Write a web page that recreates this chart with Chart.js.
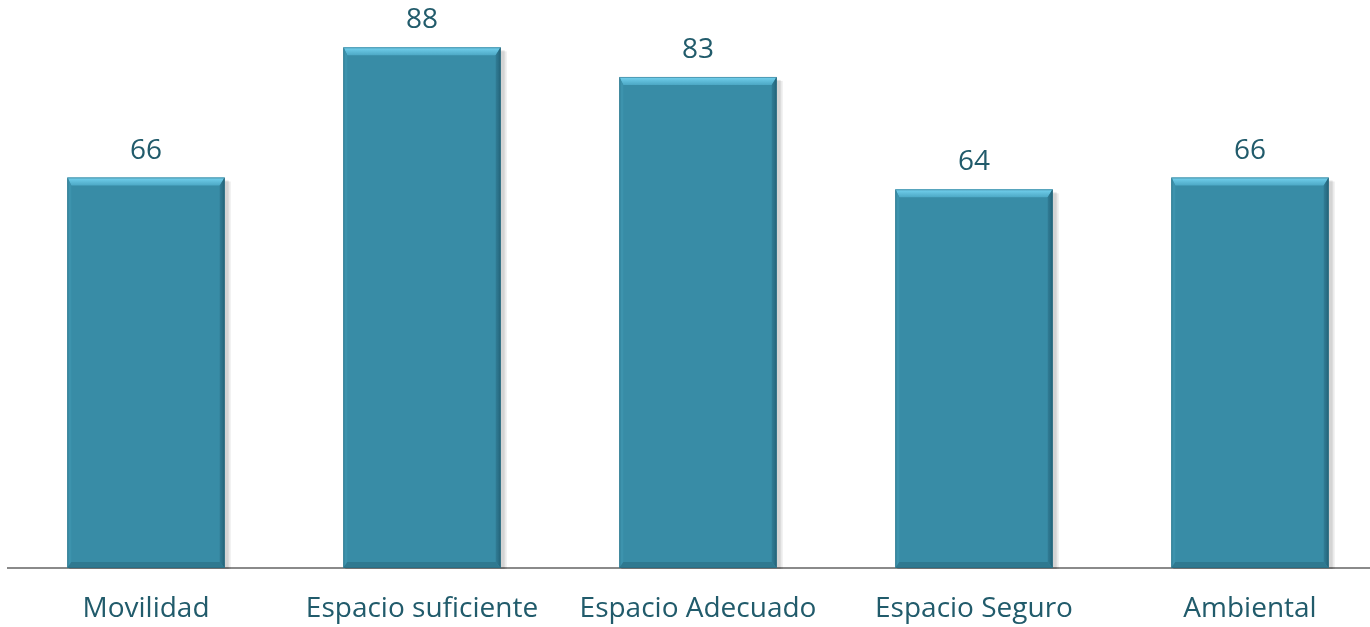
<!DOCTYPE html>
<html><head><meta charset="utf-8">
<script src="https://cdn.jsdelivr.net/npm/chart.js@4.4.0/dist/chart.umd.min.js"></script>
<style>
html,body{margin:0;padding:0;overflow:hidden;background:#fff;}
#wrap{position:absolute;left:0;top:0;width:1390px;height:627px;}
</style></head>
<body>
<div id="wrap"><canvas id="c"></canvas></div>
<script>
const categories = ["Movilidad","Espacio suficiente","Espacio Adecuado","Espacio Seguro","Ambiental"];
const values = [66, 88, 83, 64, 66];
const valueLabels = ["66","88","83","64","66"];

const textColor = '#215B6B';
const fontFamily = '"Open Sans", "Noto Sans", sans-serif';

const bevelPlugin = {
  id: 'bevel',
  afterDatasetsDraw(chart) {
    const ctx = chart.ctx;
    const meta = chart.getDatasetMeta(0);
    meta.data.forEach((bar, i) => {
      const p = bar.getProps(['x','y','base','width'], true);
      const l = p.x - p.width/2, r = p.x + p.width/2, t = p.y, b = p.base;
      const st = 8, sl = 4, sr = 5, sb = 6;
      ctx.save();
      // top bevel
      let g = ctx.createLinearGradient(0, t, 0, t+st);
      g.addColorStop(0, '#74D2EF'); g.addColorStop(1, '#4CA8C5');
      ctx.fillStyle = g;
      ctx.beginPath(); ctx.moveTo(l,t); ctx.lineTo(r,t); ctx.lineTo(r-sr,t+st); ctx.lineTo(l+sl,t+st); ctx.closePath(); ctx.fill();
      // left bevel
      ctx.fillStyle = '#3D93AD';
      ctx.beginPath(); ctx.moveTo(l,t); ctx.lineTo(l+sl,t+st); ctx.lineTo(l+sl,b-sb); ctx.lineTo(l,b); ctx.closePath(); ctx.fill();
      // right bevel
      g = ctx.createLinearGradient(r-sr, 0, r, 0);
      g.addColorStop(0, '#317D96'); g.addColorStop(1, '#24647A');
      ctx.fillStyle = g;
      ctx.beginPath(); ctx.moveTo(r,t); ctx.lineTo(r,b); ctx.lineTo(r-sr,b-sb); ctx.lineTo(r-sr,t+st); ctx.closePath(); ctx.fill();
      // bottom bevel
      ctx.fillStyle = '#2F7990';
      ctx.beginPath(); ctx.moveTo(l,b); ctx.lineTo(r,b); ctx.lineTo(r-sr,b-sb); ctx.lineTo(l+sl,b-sb); ctx.closePath(); ctx.fill();
      // outline
      ctx.strokeStyle = 'rgba(40,100,120,0.5)'; ctx.lineWidth = 1;
      ctx.strokeRect(l+0.5, t+0.5, p.width-1, b-t-1);
      // value label
      ctx.fillStyle = textColor;
      ctx.font = '28px ' + fontFamily;
      ctx.textAlign = 'center'; ctx.textBaseline = 'alphabetic';
      ctx.fillText(valueLabels[i], p.x, t - 19);
      ctx.restore();
    });
  }
};

const shadowPlugin = {
  id: 'barShadow',
  beforeDatasetsDraw(chart) {
    const ctx = chart.ctx;
    chart.getDatasetMeta(0).data.forEach(bar => {
      const p = bar.getProps(['x','y','base','width'], true);
      const l = p.x - p.width/2;
      ctx.save();
      ctx.fillStyle = 'rgba(0,0,0,0.10)';
      ctx.fillRect(l+2, p.y+3, p.width+2, p.base - p.y - 2);
      ctx.fillStyle = 'rgba(0,0,0,0.08)';
      ctx.fillRect(l+2, p.y+4, p.width+4, p.base - p.y - 3);
      ctx.restore();
    });
  }
};

new Chart(document.getElementById('c'), {
  type: 'bar',
  data: {
    labels: categories,
    datasets: [{
      data: values,
      backgroundColor: '#388CA6',
      borderWidth: 0,
      barPercentage: 0.57,
      categoryPercentage: 1.0
    }]
  },
  options: {
    responsive: true,
    maintainAspectRatio: false,
    animation: false,
    layout: { padding: { left: 8, right: 2, top: 0, bottom: 0 } },
    plugins: { legend: { display: false }, tooltip: { enabled: false } },
    scales: {
      x: {
        grid: { display: false, drawTicks: false },
        border: { display: true, color: '#8A8A8A', width: 2 },
        ticks: { color: textColor, font: { family: fontFamily, size: 28 }, padding: 24, maxRotation: 0, autoSkip: false },
        afterFit(scale) { scale.height = 59; }
      },
      y: {
        display: false,
        min: 0, max: 96
      }
    }
  },
  plugins: [shadowPlugin, bevelPlugin]
});
</script>
</body></html>
